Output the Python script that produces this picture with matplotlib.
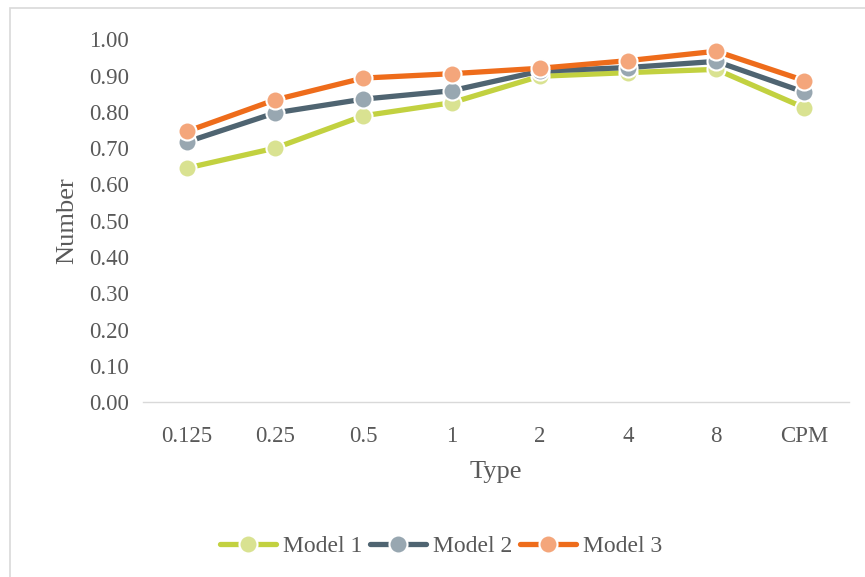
import matplotlib.pyplot as plt
import numpy as np
from matplotlib.patches import Rectangle

plt.rcParams['font.family'] = ['Liberation Serif', 'DejaVu Serif']

categories = ['0.125', '0.25', '0.5', '1', '2', '4', '8', 'CPM']
model_1 = [0.645, 0.700, 0.789, 0.825, 0.898, 0.908, 0.917, 0.811]
model_2 = [0.717, 0.797, 0.835, 0.858, 0.912, 0.922, 0.939, 0.854]
model_3 = [0.746, 0.833, 0.893, 0.905, 0.920, 0.941, 0.967, 0.886]
yticks = [0.0, 0.1, 0.2, 0.3, 0.4, 0.5, 0.6, 0.7, 0.8, 0.9, 1.0]

TEXT_COLOR = '#595959'
LABEL_SIZE = 19
TICK_SIZE = 16.5

series = [
    ('Model 1', model_1, '#C2D140', '#D9E291'),
    ('Model 2', model_2, '#4F6471', '#98A7B1'),
    ('Model 3', model_3, '#EE6C1B', '#F4A67B'),
]

fig = plt.figure(figsize=(8.65, 5.77), dpi=100)
ax = fig.add_axes([0.165, 0.303, 0.816, 0.629])

x = np.arange(len(categories))
for name, vals, line_c, mark_c in series:
    ax.plot(x, vals, color=line_c, lw=3.8, marker='o', markersize=13,
            markerfacecolor=mark_c, markeredgecolor='white', markeredgewidth=1.5,
            label=name, solid_capstyle='round')

ax.set_xlim(-0.5, len(categories) - 0.5)
ax.set_ylim(0, 1.0)
ax.set_xticks(x)
ax.set_xticklabels(categories)
ax.set_yticks(yticks)
ax.set_yticklabels([f'{v:.2f}' for v in yticks])
ax.tick_params(axis='both', labelsize=TICK_SIZE, colors=TEXT_COLOR, length=0, pad=10)
ax.tick_params(axis='x', pad=17)

for s in ['top', 'right', 'left']:
    ax.spines[s].set_visible(False)
ax.spines['bottom'].set_color('#D9D9D9')
ax.spines['bottom'].set_linewidth(1)
for line in ax.lines:
    line.set_clip_on(False)

ax.set_xlabel('Type', fontsize=LABEL_SIZE, color=TEXT_COLOR, labelpad=10)
ax.set_ylabel('Number', fontsize=LABEL_SIZE, color=TEXT_COLOR, labelpad=8)

leg = fig.legend(loc='center', bbox_to_anchor=(0.51, 0.053), ncol=3, frameon=False,
                 fontsize=TICK_SIZE + 0.5, handlelength=2.35, handletextpad=0.3,
                 columnspacing=0.35, labelcolor=TEXT_COLOR)

fig.patches.append(Rectangle((0.012, -0.01), 1.0, 0.997, transform=fig.transFigure,
                             fill=False, edgecolor='#D9D9D9', lw=1.2))

fig.savefig('out.png', dpi=100)
